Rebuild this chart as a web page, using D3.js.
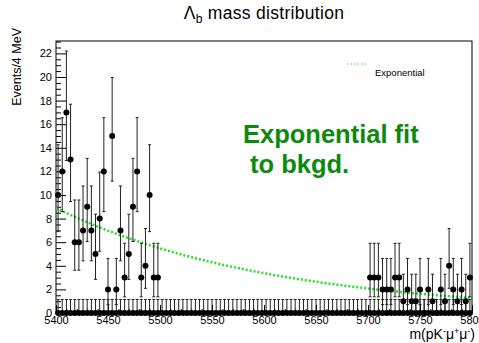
<!DOCTYPE html>
<html>
<head>
<meta charset="utf-8">
<script src="https://cdn.jsdelivr.net/npm/d3@7"></script>
<style>
  body { margin: 0; background: #fff; }
  svg { display: block; font-family: 'Liberation Sans', Arial, sans-serif; }
</style>
</head>
<body>
<div class="canvas"></div>
<script>
// 4 MeV bins; sidebands 5400-5500 and 5700-5800 (signal window blinded)
const binWidth = 4;
const lowStart = 5400;
const countsLow = [10, 12, 17, 13, 6, 6, 7, 9, 7, 5, 8, 12, 2, 15, 2, 7, 3, 5, 9, 12, 3, 4, 10, 3, 3];
const highStart = 5700;
const countsHigh = [3, 3, 3, 2, 2, 2, 3, 3, 1, 2, 1, 1, 2, 0, 2, 1, 0, 2, 1, 4, 2, 1, 2, 1, 3];
// empty histogram drawn over the full range (100 bins, all zero)
const emptyStart = 5400;
const countsEmpty = new Array(100).fill(0);

const xTicks = [5400, 5450, 5500, 5550, 5600, 5650, 5700, 5750, 5800];
const yTicks = [0, 2, 4, 6, 8, 10, 12, 14, 16, 18, 20, 22];

// exponential background fit: norm * exp(slope * (m - 5400))
const fitNorm = 8.9;
const fitSlope = -0.00485;
const zeroUpper = 1.148;

const dims = { width: 479, height: 343 };
const frame = { left: 56, right: 472, top: 41, bottom: 313 };

const svg = d3
  .select('.canvas')
  .append('svg')
  .attr('width', dims.width)
  .attr('height', dims.height);

const x = d3.scaleLinear().domain([5400, 5800]).range([frame.left, frame.right]);
const y = d3.scaleLinear().domain([0, 23.05]).range([frame.bottom, frame.top]);

// poisson central interval (Wilson-Hilferty)
const poissonLow = (n) => (n === 0 ? 0 : n * Math.pow(1 - 1 / (9 * n) - 1 / (3 * Math.sqrt(n)), 3));
const poissonHigh = (n) => {
  if (n === 0) return zeroUpper;
  const m = n + 1;
  return m * Math.pow(1 - 1 / (9 * m) + 1 / (3 * Math.sqrt(m)), 3);
};

const toBins = (list, start) =>
  list.map((n, i) => ({
    mass: start + binWidth * (i + 0.5),
    n,
    lo: poissonLow(n),
    hi: poissonHigh(n),
  }));

const data = [
  ...toBins(countsEmpty, emptyStart),
  ...toBins(countsLow, lowStart),
  ...toBins(countsHigh, highStart),
];

// frame
svg
  .append('rect')
  .attr('x', frame.left)
  .attr('y', frame.top)
  .attr('width', frame.right - frame.left)
  .attr('height', frame.bottom - frame.top)
  .attr('fill', 'none')
  .attr('stroke', '#000')
  .attr('stroke-width', 1);

// y axis
const yMinor = d3.range(0, 23.01, 0.5).filter((v) => v % 2 !== 0);
svg
  .append('g')
  .attr('transform', `translate(${frame.left},0)`)
  .call(d3.axisLeft(y).tickValues(yMinor).tickSize(-5).tickFormat(''))
  .call((g) => g.select('.domain').remove());

const yAxis = svg
  .append('g')
  .attr('transform', `translate(${frame.left},0)`)
  .call(d3.axisLeft(y).tickValues(yTicks).tickSize(-10).tickPadding(4))
  .call((g) => g.select('.domain').remove());
yAxis.attr('font-size', 11).attr('font-family', null);

// x axis
const xMinor = d3.range(5400, 5801, 10).filter((v) => v % 50 !== 0);
svg
  .append('g')
  .attr('transform', `translate(0,${frame.bottom})`)
  .call(d3.axisBottom(x).tickValues(xMinor).tickSize(-4).tickFormat(''))
  .call((g) => g.select('.domain').remove());

const xAxis = svg
  .append('g')
  .attr('transform', `translate(0,${frame.bottom})`)
  .call(d3.axisBottom(x).tickValues(xTicks).tickSize(-8).tickPadding(3).tickFormat(d3.format('d')))
  .call((g) => g.select('.domain').remove());
xAxis.attr('font-size', 11).attr('font-family', null);

// fit curve
const fitLine = d3
  .line()
  .x((m) => x(m))
  .y((m) => y(fitNorm * Math.exp(fitSlope * (m - 5400))));

svg
  .append('path')
  .attr('d', fitLine(d3.range(5400, 5800.1, 2)))
  .attr('fill', 'none')
  .attr('stroke', '#22e022')
  .attr('stroke-width', 2.5)
  .attr('stroke-dasharray', '2,2');

// data points
const points = svg.append('g').selectAll('.pt').data(data).enter().append('g').attr('class', 'pt');

points
  .append('line')
  .attr('x1', (d) => x(d.mass))
  .attr('x2', (d) => x(d.mass))
  .attr('y1', (d) => y(d.lo))
  .attr('y2', (d) => y(d.hi))
  .attr('stroke', '#222')
  .attr('stroke-width', 1);

points
  .append('line')
  .attr('x1', (d) => x(d.mass) - 1.5)
  .attr('x2', (d) => x(d.mass) + 1.5)
  .attr('y1', (d) => y(d.hi))
  .attr('y2', (d) => y(d.hi))
  .attr('stroke', '#222')
  .attr('stroke-width', 1);

points
  .filter((d) => d.n > 0)
  .append('line')
  .attr('x1', (d) => x(d.mass) - 1.5)
  .attr('x2', (d) => x(d.mass) + 1.5)
  .attr('y1', (d) => y(d.lo))
  .attr('y2', (d) => y(d.lo))
  .attr('stroke', '#222')
  .attr('stroke-width', 1);

points
  .append('circle')
  .attr('cx', (d) => x(d.mass))
  .attr('cy', (d) => y(d.n))
  .attr('r', 3)
  .attr('fill', '#000');

// legend
svg
  .append('line')
  .attr('x1', 347)
  .attr('x2', 368)
  .attr('y1', 64)
  .attr('y2', 64)
  .attr('stroke', '#33ee33')
  .attr('stroke-width', 1.2)
  .attr('stroke-dasharray', '1.5,2');

svg
  .append('text')
  .attr('x', 375)
  .attr('y', 76)
  .attr('font-size', 9.5)
  .attr('fill', '#000')
  .text('Exponential');

// title
const title = svg
  .append('text')
  .attr('x', 264)
  .attr('y', 19)
  .attr('text-anchor', 'middle')
  .attr('font-size', 17.5)
  .attr('letter-spacing', 0.3);
title.append('tspan').text('Λ');
title.append('tspan').attr('font-size', 12).attr('dy', 4).text('b');
title.append('tspan').attr('dy', -4).text(' mass distribution');

// axis titles
svg
  .append('text')
  .attr('transform', 'translate(21,28) rotate(-90)')
  .attr('text-anchor', 'end')
  .attr('font-size', 12.5)
  .text('Events/4 MeV');

const xTitle = svg
  .append('text')
  .attr('x', 475)
  .attr('y', 339)
  .attr('text-anchor', 'end')
  .attr('font-size', 14);
xTitle.append('tspan').text('m(pK');
xTitle.append('tspan').attr('font-size', 9).attr('dy', -5).text('-');
xTitle.append('tspan').attr('dy', 5).text('μ');
xTitle.append('tspan').attr('font-size', 9).attr('dy', -5).text('+');
xTitle.append('tspan').attr('dy', 5).text('μ');
xTitle.append('tspan').attr('font-size', 9).attr('dy', -5).text('-');
xTitle.append('tspan').attr('dy', 5).text(')');

// annotation
const note = svg
  .append('text')
  .attr('font-size', 25.5)
  .attr('font-weight', 'bold')
  .attr('fill', '#0c8a0c');
note.append('tspan').attr('x', 243).attr('y', 143).text('Exponential fit');
note.append('tspan').attr('x', 250).attr('y', 173).text('to bkgd.');
</script>
</body>
</html>
